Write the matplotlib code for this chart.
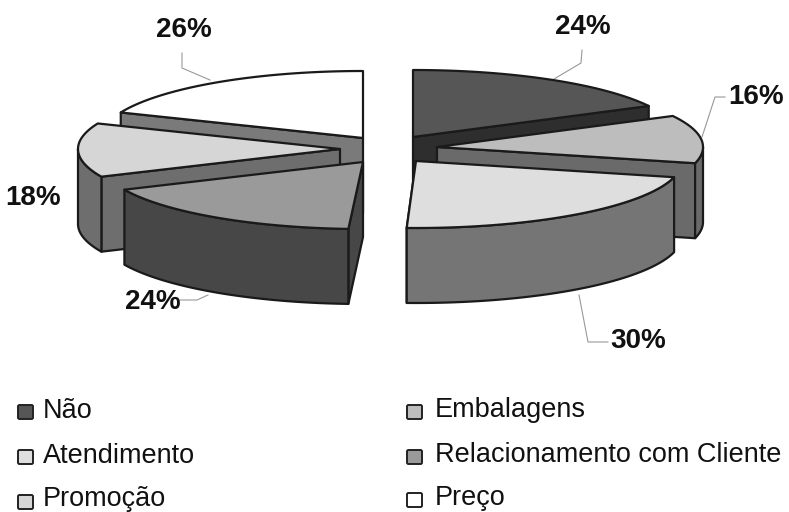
import numpy as np
import matplotlib
matplotlib.use('Agg')
import matplotlib.pyplot as plt
from matplotlib.patches import Polygon, FancyBboxPatch

plt.rcParams['font.family'] = ['Liberation Sans', 'DejaVu Sans']

# fatias de cada lado, de tras para a frente
esquerda_nomes = ['Preço', 'Promoção', 'Relacionamento com Cliente']
esquerda_valores = [26, 18, 24]
direita_nomes = ['Não', 'Embalagens', 'Atendimento']
direita_valores = [24, 16, 30]

legenda_col1 = ['Não', 'Atendimento', 'Promoção']
legenda_col2 = ['Embalagens', 'Relacionamento com Cliente', 'Preço']

cor_topo = {'Não': '#565656', 'Embalagens': '#bdbdbd', 'Atendimento': '#dedede',
            'Relacionamento com Cliente': '#9a9a9a', 'Promoção': '#d6d6d6', 'Preço': '#ffffff'}
cor_lado = {'Não': '#2e2e2e', 'Embalagens': '#6a6a6a', 'Atendimento': '#757575',
            'Relacionamento com Cliente': '#474747', 'Promoção': '#6e6e6e', 'Preço': '#7a7a7a'}

GRAUS_POR_PCT = 2.6
ALTURA = 75
RY = 67
LINHA = '#1a1a1a'

fig = plt.figure(figsize=(7.89, 5.12), dpi=100)
ax = fig.add_axes([0, 0, 1, 1])
ax.set_xlim(0, 789)
ax.set_ylim(512, 0)
ax.axis('off')


def aro(cx, cy, rx, sentido, angulos):
    rad = np.radians(angulos)
    return np.column_stack([cx + sentido * rx * np.sin(rad), cy - RY * np.cos(rad)])


def poligono(pts, cor, z):
    ax.add_patch(Polygon(pts, closed=True, facecolor=cor, edgecolor=LINHA,
                         linewidth=1.6, joinstyle='round', zorder=z))


def desenhar_fatia(nome, a0, a1, cx, cy, rx, sentido, z):
    desce = np.array([0, ALTURA])
    centro = np.array([cx, cy])
    fim = aro(cx, cy, rx, sentido, np.array([a1]))[0]
    # face do corte, depois parede externa e por fim o topo
    poligono([centro, fim, fim + desce, centro + desce], cor_lado[nome], z)
    if a1 > 90:
        ang = np.linspace(max(a0, 90), a1, 40)
        borda = aro(cx, cy, rx, sentido, ang)
        poligono(np.vstack([borda, borda[::-1] + desce]), cor_lado[nome], z + 1)
    ang = np.linspace(a0, a1, 60)
    poligono(np.vstack([centro, aro(cx, cy, rx, sentido, ang)]), cor_topo[nome], z + 2)


def desenhar_lado(nomes, valores, centros, rx, sentido):
    a0 = 0
    for i, (nome, v) in enumerate(zip(nomes, valores)):
        a1 = a0 + v * GRAUS_POR_PCT
        desenhar_fatia(nome, a0, a1, centros[i][0], centros[i][1], rx, sentido, 10 + 3 * i)
        a0 = a1


desenhar_lado(esquerda_nomes, esquerda_valores, [(363, 138), (340, 149), (363, 162)], 262, -1)
desenhar_lado(direita_nomes, direita_valores, [(413, 137), (437, 147), (416, 161)], 266, 1)

# rotulos de porcentagem com as linhas de chamada
rotulos = [
    (esquerda_valores[0], 184, 30, [(182, 53), (182, 68), (210, 80)]),
    (esquerda_valores[1], 33, 198, None),
    (esquerda_valores[2], 153, 302, [(180, 300), (197, 300), (208, 295)]),
    (direita_valores[0], 583, 27, [(582, 50), (581, 63), (554, 79)]),
    (direita_valores[1], 756, 97, [(725, 97), (715, 97), (702, 137)]),
    (direita_valores[2], 638, 341, [(608, 342), (588, 342), (579, 295)]),
]
for valor, x, y, chamada in rotulos:
    ax.text(x, y, f'{valor}%', fontsize=20, fontweight='bold', color='#111111',
            ha='center', va='center', zorder=40)
    if chamada:
        xs, ys = zip(*chamada)
        ax.plot(xs, ys, color='#999999', linewidth=0.8, zorder=5)

# legenda em duas colunas
for nomes, x_caixa, x_texto, caixas, bases in [
        (legenda_col1, 18, 43, [412, 457, 502], [418, 463, 506]),
        (legenda_col2, 407, 435, [412, 457, 500], [417, 462, 505])]:
    for nome, y, base in zip(nomes, caixas, bases):
        ax.add_patch(FancyBboxPatch((x_caixa, y - 7), 15, 14,
                                    boxstyle='round,pad=0,rounding_size=1.5',
                                    facecolor=cor_topo[nome], edgecolor='#222222',
                                    linewidth=1.4, zorder=30))
        ax.text(x_texto, base, nome, fontsize=19.5, color='#111111', ha='left',
                va='baseline', zorder=30)

fig.savefig('out.png', dpi=100)
